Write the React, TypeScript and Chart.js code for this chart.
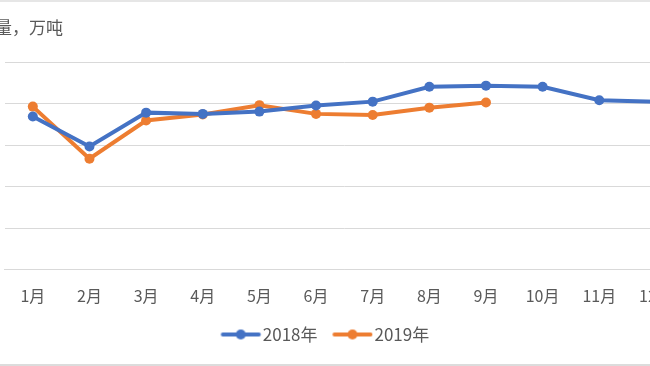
import React, { useEffect, useRef } from "react";
import { Chart, registerables } from "chart.js";

Chart.register(...registerables);

const months = ["1月", "2月", "3月", "4月", "5月", "6月", "7月", "8月", "9月", "10月", "11月", "12月"];
const series2018 = [7370, 5930, 7560, 7500, 7610, 7900, 8090, 8810, 8860, 8810, 8160, 8090];
const series2019 = [7850, 5340, 7180, 7470, 7920, 7500, 7450, 7800, 8050];
const seriesNames = ["2018年", "2019年"];
const yMin = 0;
const yMax = 10000;
const yStep = 2000;
const unitTitle = "量，万吨";

const BLUE = "#4472C4";
const ORANGE = "#ED7D31";
const TEXT = "#595959";
const GRID = "#D9D9D9";
const FONT = "'Noto Sans CJK SC', 'Noto Sans', sans-serif";

function legendMarker(color: string): HTMLCanvasElement {
  const c = document.createElement("canvas");
  c.width = 48;
  c.height = 12;
  const ctx = c.getContext("2d")!;
  ctx.strokeStyle = color;
  ctx.lineWidth = 4;
  ctx.lineCap = "round";
  ctx.beginPath();
  ctx.moveTo(9.25, 6);
  ctx.lineTo(45.25, 6);
  ctx.stroke();
  ctx.fillStyle = color;
  ctx.beginPath();
  ctx.arc(27.25, 6, 5, 0, Math.PI * 2);
  ctx.fill();
  return c;
}

const titlePlugin = {
  id: "unitTitle",
  afterDraw(chart: any) {
    const ctx = chart.ctx;
    ctx.save();
    ctx.font = `17px ${FONT}`;
    ctx.fillStyle = TEXT;
    ctx.textBaseline = "middle";
    ctx.textAlign = "left";
    ctx.fillText(unitTitle, 35, 28);
    ctx.restore();
  },
};

export default function App() {
  const ref = useRef<HTMLCanvasElement | null>(null);

  useEffect(() => {
    if (!ref.current) return;
    const markers = [legendMarker(BLUE), legendMarker(ORANGE)];
    const chart = new Chart(ref.current, {
      type: "line",
      data: {
        labels: months,
        datasets: [
          {
            label: seriesNames[0],
            data: series2018,
            borderColor: BLUE,
            backgroundColor: BLUE,
            borderWidth: 4,
            pointRadius: 5,
            pointBackgroundColor: BLUE,
            pointBorderWidth: 0,
            tension: 0,
          },
          {
            label: seriesNames[1],
            data: series2019,
            borderColor: ORANGE,
            backgroundColor: ORANGE,
            borderWidth: 4,
            pointRadius: 5,
            pointBackgroundColor: ORANGE,
            pointBorderWidth: 0,
            tension: 0,
          },
        ],
      },
      options: {
        responsive: false,
        animation: false,
        devicePixelRatio: 1,
        layout: { padding: { left: 0, right: 0, top: 62, bottom: 13 } },
        scales: {
          x: {
            offset: true,
            grid: { display: false, drawTicks: false },
            border: { display: true, color: GRID, width: 1 },
            ticks: {
              color: TEXT,
              font: { family: FONT, size: 16 },
              padding: 17,
              maxRotation: 0,
              autoSkip: false,
            },
            afterFit: (scale: any) => {
              scale.height = 41.5;
            },
          },
          y: {
            min: yMin,
            max: yMax,
            grid: { color: GRID, lineWidth: 1, drawTicks: false },
            border: { display: false },
            ticks: { display: false, stepSize: yStep },
            afterFit: (scale: any) => {
              scale.width = 44.5;
            },
          },
        },
        plugins: {
          title: { display: false },
          tooltip: { enabled: false },
          legend: {
            display: true,
            position: "bottom",
            labels: {
              usePointStyle: true,
              pointStyleWidth: 33.5,
              padding: 15,
              color: TEXT,
              font: { family: FONT, size: 17 },
              generateLabels: (c: any) => {
                const items = Chart.defaults.plugins.legend.labels.generateLabels(c);
                return items.map((it: any, i: number) => ({ ...it, pointStyle: markers[i] }));
              },
            },
          },
        },
      },
      plugins: [titlePlugin],
    });
    return () => chart.destroy();
  }, []);

  return (
    <div
      style={{
        position: "fixed",
        left: 0,
        top: 0,
        width: 650,
        height: 366,
        overflow: "hidden",
        background: "#ffffff",
      }}
    >
      <canvas
        ref={ref}
        width={730}
        height={366}
        style={{ position: "absolute", left: -40, top: 0, width: 730, height: 366 }}
      />
      <div style={{ position: "absolute", left: 0, top: 0, width: 650, height: 2, background: "#E6E6E6" }} />
      <div style={{ position: "absolute", left: 0, top: 364, width: 650, height: 2, background: "#DCDCDC" }} />
    </div>
  );
}
